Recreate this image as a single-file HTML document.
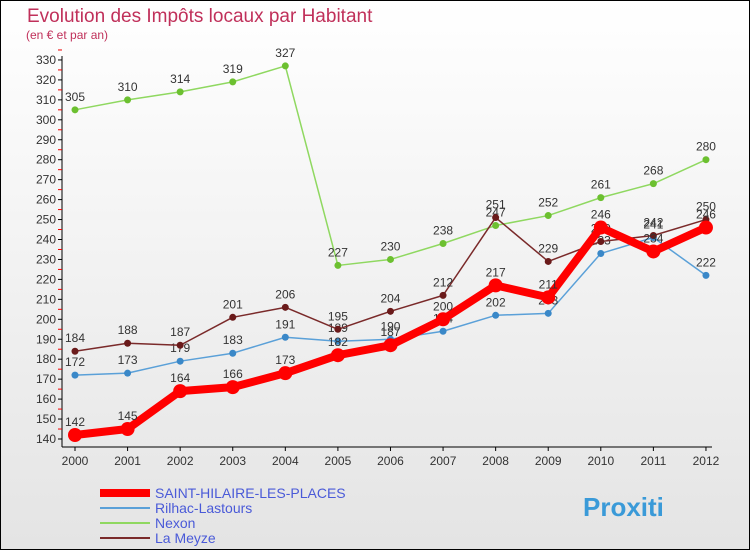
<!DOCTYPE html>
<html><head><meta charset="utf-8"><style>
body{margin:0;width:750px;height:550px;overflow:hidden;font-family:"Liberation Sans",sans-serif}
#c{position:absolute;left:0;top:0;width:748px;height:548px;border:1px solid #000;background:linear-gradient(#fff,#e4e4e4)}
</style></head><body>
<div id="c">
<svg id="s" width="750" height="550" style="position:absolute;left:-1px;top:-1px"></svg>
</div>
<script>
const years=[2000,2001,2002,2003,2004,2005,2006,2007,2008,2009,2010,2011,2012];
const ticks=[140,150,160,170,180,190,200,210,220,230,240,250,260,270,280,290,300,310,320,330];
const sthilaire=[142,145,164,166,173,182,187,200,217,211,246,234,246];
const rilhac=[172,173,179,183,191,189,190,194,202,203,233,241,222];
const nexon=[305,310,314,319,327,227,230,238,247,252,261,268,280];
const lameyze=[184,188,187,201,206,195,204,212,251,229,239,242,250];
const names=["SAINT-HILAIRE-LES-PLACES","Rilhac-Lastours","Nexon","La Meyze"];
const ns="http://www.w3.org/2000/svg",s=document.getElementById('s');
const X=i=>75+i*52.58, Y=v=>439-(v-140)*1.995;
function el(t,a,p){const e=document.createElementNS(ns,t);for(const k in a)e.setAttribute(k,a[k]);(p||s).appendChild(e);return e;}
let t=el('text',{x:27,y:22,fill:'#c0305a','font-size':19});t.textContent='Evolution des Impôts locaux par Habitant';

t=el('text',{x:26,y:39,fill:'#c0305a','font-size':12});t.textContent='(en € et par an)';

const ax=el('g',{});
el('line',{x1:62,y1:56,x2:62,y2:447,stroke:'#000'},ax);
el('line',{x1:62,y1:447,x2:712,y2:447,stroke:'#000'},ax);
ticks.forEach(v=>{el('line',{x1:58,x2:62,y1:Y(v),y2:Y(v),stroke:'#000'},ax);
 el('line',{x1:58,x2:62,y1:Y(v+5),y2:Y(v+5),stroke:'#e00'},ax);
 const tt=el('text',{x:56,y:Y(v)+4,'text-anchor':'end','font-size':12,fill:'#333'},ax);tt.textContent=v;});
const xa=el('g',{});
years.forEach((y,i)=>{el('line',{x1:X(i),x2:X(i),y1:447,y2:451,stroke:'#000'},xa);
 const tt=el('text',{x:X(i),y:465,'text-anchor':'middle','font-size':12,fill:'#333'},xa);tt.textContent=y;});
const series=[[nexon,'#8fd860','#6cc030',1.5,3.5],[rilhac,'#5aa0d8','#3a88c8',1.5,3.5],[lameyze,'#7a2a2a','#6a1a1a',1.5,3.5],[sthilaire,'#ff0000','#ff0000',8,7]];
const snames=['nexon','rilhac','la-meyze','saint-hilaire'];
series.forEach(([d,lc,pc,w,r],k)=>{
 const g=el('g',{});
 el('polyline',{points:d.map((v,i)=>X(i)+','+Y(v)).join(' '),fill:'none',stroke:lc,'stroke-width':w,'stroke-linejoin':'round'},g);
 d.forEach((v,i)=>{el('circle',{cx:X(i),cy:Y(v),r:r,fill:pc},g);
  const tt=el('text',{x:X(i),y:Y(v)-9,'text-anchor':'middle','font-size':12,fill:'#333'},g);tt.textContent=v;});
});
const lg=el('g',{});
const lcols=['#ff0000','#5aa0d8','#8fd860','#7a2a2a'],lw=[8,2,2,2];
names.forEach((n,i)=>{const y=493+i*15;el('line',{x1:100,x2:150,y1:y,y2:y,stroke:lcols[i],'stroke-width':lw[i]},lg);
 const tt=el('text',{x:155,y:y+5,'font-size':14,fill:'#4a5ad8'},lg);tt.textContent=n;});
const lo=el('text',{x:583,y:516,'font-size':26,'font-weight':'bold',fill:'#3a9ad8'});lo.textContent='Proxiti';

</script>
</body></html>
